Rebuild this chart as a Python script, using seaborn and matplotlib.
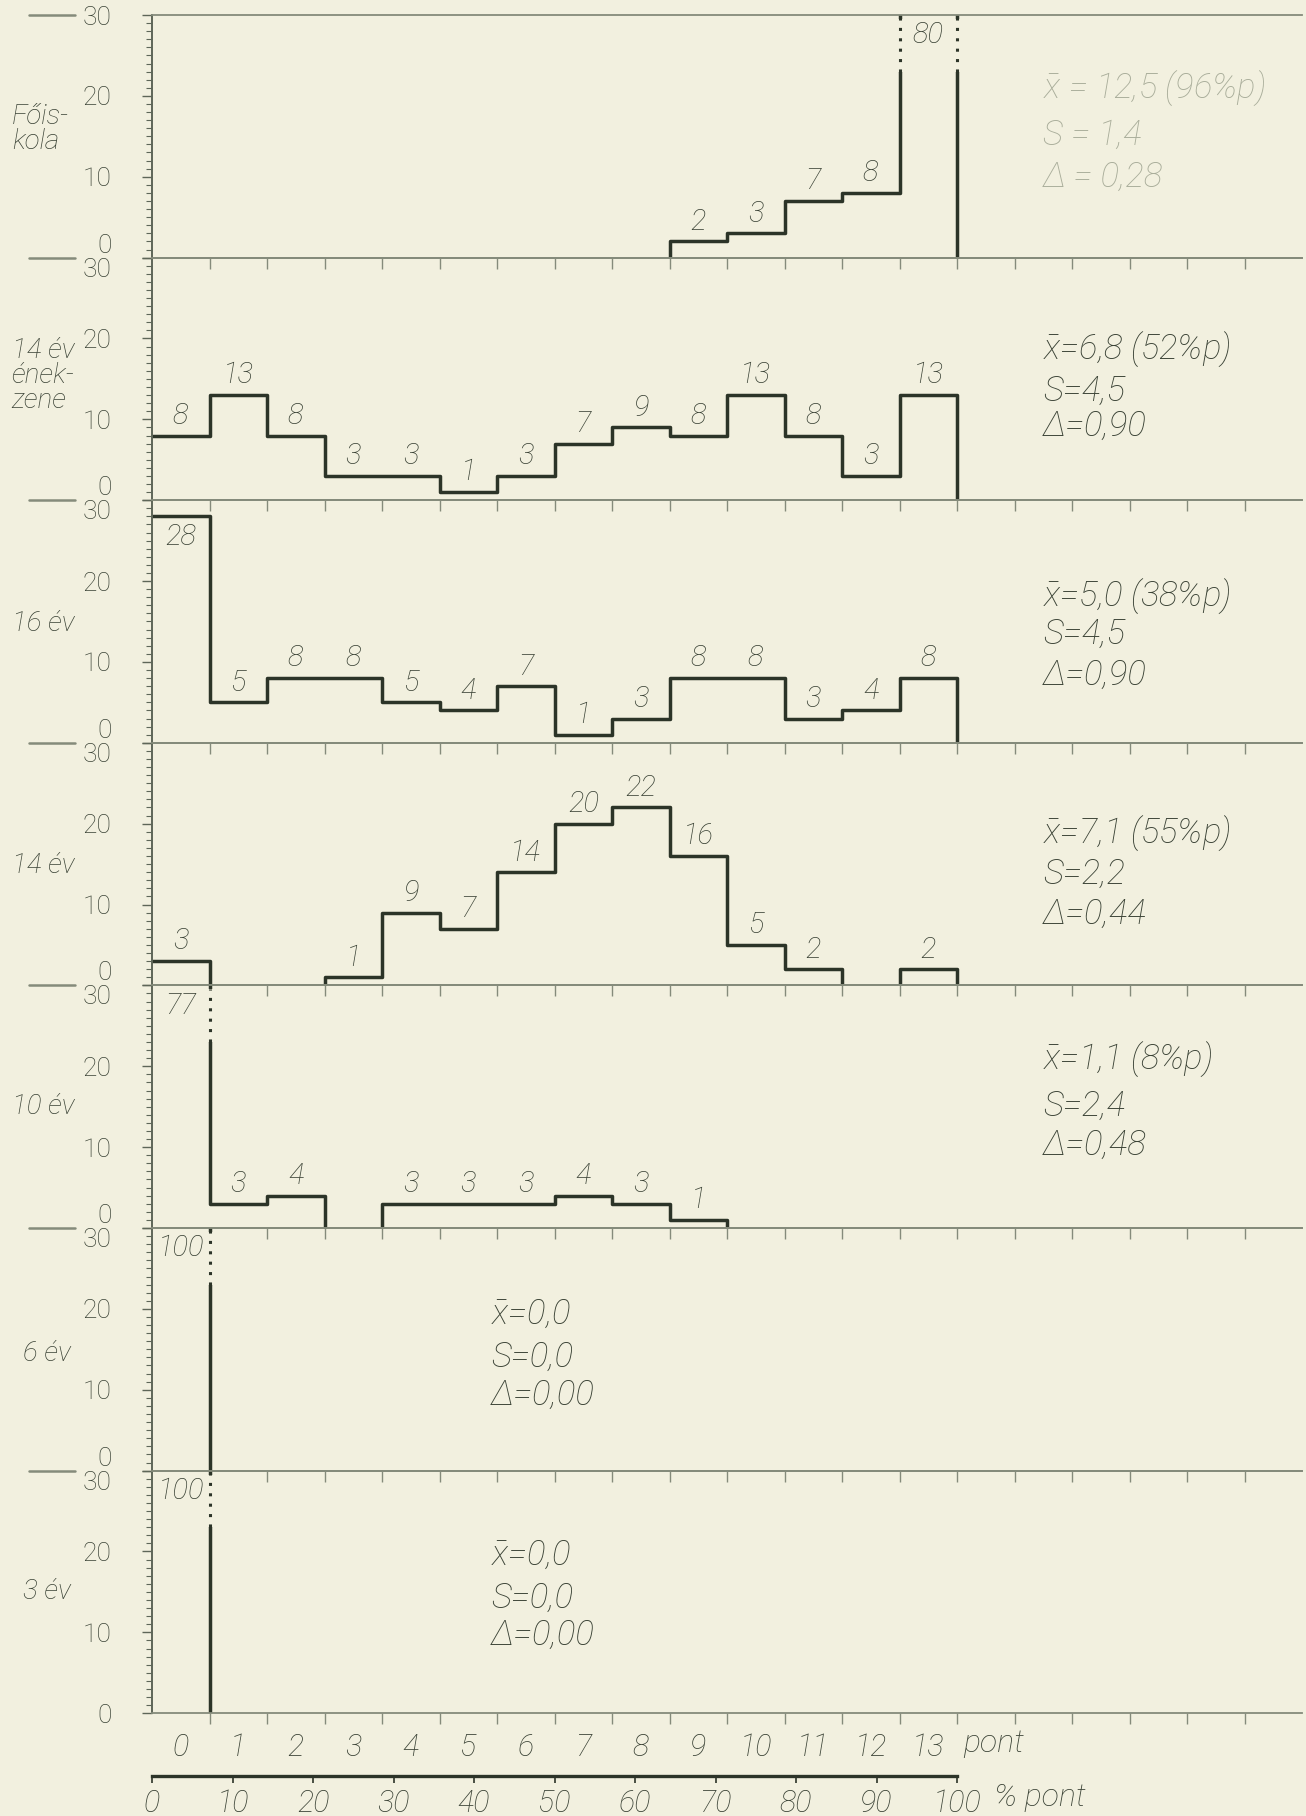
import numpy as np
import matplotlib
matplotlib.use("Agg")
import matplotlib.pyplot as plt
import seaborn as sns
from matplotlib.ticker import FixedLocator, MultipleLocator

# ---------------- data ----------------
point_labels = [str(p) for p in range(14)]
percent_ticks = [0, 10, 20, 30, 40, 50, 60, 70, 80, 90, 100]
group_names = ["Főis-\nkola", "14 év\nének-\nzene", "16 év", "14 év", "10 év", "6 év", "3 év"]

foiskola   = [0, 0, 0, 0, 0, 0, 0, 0, 0, 2, 3, 7, 8, 80]
enekzene14 = [8, 13, 8, 3, 3, 1, 3, 7, 9, 8, 13, 8, 3, 13]
ev16       = [28, 5, 8, 8, 5, 4, 7, 1, 3, 8, 8, 3, 4, 8]
ev14       = [3, 0, 0, 1, 9, 7, 14, 20, 22, 16, 5, 2, 0, 2]
ev10       = [77, 3, 4, 0, 3, 3, 3, 4, 3, 1, 0, 0, 0, 0]
ev6        = [100, 0, 0, 0, 0, 0, 0, 0, 0, 0, 0, 0, 0, 0]
ev3        = [100, 0, 0, 0, 0, 0, 0, 0, 0, 0, 0, 0, 0, 0]
series = [foiskola, enekzene14, ev16, ev14, ev10, ev6, ev3]

mean_text  = ["12,5 (96%p)", "6,8 (52%p)", "5,0 (38%p)", "7,1 (55%p)", "1,1 (8%p)", "0,0", "0,0"]
s_text     = ["1,4", "4,5", "4,5", "2,2", "2,4", "0,0", "0,0"]
delta_text = ["0,28", "0,90", "0,90", "0,44", "0,48", "0,00", "0,00"]

# ---------------- style ----------------
bg = "#f2f0df"
line_c = "#2c3428"
frame_c = "#858b7b"
axis_c = "#5e6658"
text_c = "#3a4235"
faded_c = "#a9ad9a"

sns.set_theme(style="white")
FONT = "Roboto"
plt.rcParams["font.family"] = [FONT, "DejaVu Sans"]
plt.rcParams["font.weight"] = "light"
plt.rcParams["mathtext.fontset"] = "custom"
plt.rcParams["mathtext.it"] = FONT + ":italic:light"
plt.rcParams["mathtext.rm"] = FONT + ":light"
plt.rcParams["mathtext.sf"] = FONT + ":light"

W, H = 1306, 1816
left_px, unit_px = 152, 57.5
top_px, panel_px = 15, 242.6
xmax = 20

fig = plt.figure(figsize=(W / 100, H / 100), dpi=100, facecolor=bg)

stats_x = [15.5, 15.5, 15.5, 15.5, 15.5, 5.9, 5.9]
stats_y = [(20.9, 15.1, 10.0), (18.6, 13.5, 9.2), (18.1, 13.5, 8.4),
           (18.8, 13.8, 8.8), (20.9, 15.1, 10.2), (19.3, 14.0, 9.3), (19.5, 14.2, 9.6)]
name_x = [-0.122, -0.122, -0.122, -0.122, -0.122, -0.112, -0.112]
name_y = [15.9, 15.4, 14.8, 14.8, 15.0, 14.5, 15.0]

axes = []
for i, vals in enumerate(series):
    vals = np.asarray(vals)
    bottom_px = top_px + (i + 1) * panel_px
    ax = fig.add_axes([left_px / W, 1 - bottom_px / H, xmax * unit_px / W, panel_px / H])
    ax.set_facecolor("none")
    axes.append(ax)

    # contiguous non-zero runs, drawn as step outlines
    k = 0
    eps = 0.002
    while k < 14:
        if vals[k] > 0:
            j = k
            while j + 1 < 14 and vals[j + 1] > 0:
                j += 1
            inner = list(np.arange(k, j + 2))
            bins = ([k - eps] if k > 0 else []) + inner + [j + 1 + eps]
            sns.histplot(x=np.arange(k, j + 1) + 0.5, weights=vals[k:j + 1], bins=bins,
                         element="step", fill=False, color=line_c, linewidth=2.5, ax=ax)
            k = j + 1
        else:
            k += 1

    # broken (off-scale) bars
    for k, v in enumerate(vals):
        if v > 30:
            xs = [e for e in (k, k + 1) if e > 0]
            ax.vlines(xs, 23, 29.5, colors=bg, linewidth=6, zorder=5)
            ax.vlines(xs, 23, 29.6, colors=line_c, linewidth=2.2,
                      linestyles=[(0, (1, 2.4))], zorder=6)

    # value labels
    for k, v in enumerate(vals):
        if v == 0:
            continue
        if v > 30:
            y, va = 27.5, "center"
        elif v >= 25:
            y, va = v - 0.8, "top"
        else:
            y, va = v + 0.7, "bottom"
        ax.text(k + 0.5, y, str(v), ha="center", va=va, fontsize=21,
                style="italic", color=text_c, zorder=7)

    # stats
    c = faded_c if i == 0 else text_c
    sep = " = " if i == 0 else "="
    lines = [r"$\bar{x}$" + sep + mean_text[i], "S" + sep + s_text[i], "Δ" + sep + delta_text[i]]
    for txt, yy in zip(lines, stats_y[i]):
        ax.text(stats_x[i], yy, txt, ha="left", va="center", fontsize=25,
                style="italic", color=c)

    # group name
    ax.text(name_x[i], name_y[i], group_names[i], transform=ax.get_yaxis_transform(),
            ha="left", va="center", fontsize=20, style="italic", color=text_c,
            linespacing=0.92)

    # left dash at the panel top
    ax.plot([-0.107, -0.067], [30, 30], transform=ax.get_yaxis_transform(),
            color=frame_c, lw=1.8, clip_on=False)

    ax.set_xlim(0, xmax)
    ax.set_ylim(0, 30)
    ax.set_xlabel("")
    ax.set_ylabel("")

    ax.spines["right"].set_visible(False)
    for side in ["top", "bottom"]:
        ax.spines[side].set_color(frame_c)
        ax.spines[side].set_linewidth(1.3)
    ax.spines["left"].set_color(axis_c)
    ax.spines["left"].set_linewidth(1.4)

    ax.yaxis.set_major_locator(FixedLocator([0, 10, 20, 30]))
    ax.yaxis.set_minor_locator(MultipleLocator(1))
    ax.set_yticklabels(["0", "10", "20", "30"])
    ax.tick_params(axis="y", which="major", left=True, direction="out", length=7,
                   width=1.0, color=axis_c, pad=22, labelsize=19, labelcolor=text_c)
    ax.tick_params(axis="y", which="minor", left=True, direction="out", length=4,
                   width=0.8, color=axis_c)
    ax.set_xticks(range(1, xmax))
    ax.tick_params(axis="x", which="major", bottom=True, top=False, direction="out",
                   length=8, width=1.0, color=frame_c, labelbottom=False)
    for t, val in zip(ax.yaxis.get_major_ticks(), [0, 10, 20, 30]):
        if val == 0 and i < 6:
            t.label1.set_verticalalignment("bottom")
        if val == 30 and i > 0:
            t.label1.set_verticalalignment("top")
    ax.grid(False)

# bottom point labels
ax = axes[-1]
ax.set_xticks(np.arange(14) + 0.5, minor=True)
ax.set_xticklabels(point_labels, minor=True)
ax.tick_params(axis="x", which="minor", bottom=True, length=0, pad=14,
               labelsize=22, labelcolor=text_c)
for lab in ax.get_xticklabels(minor=True):
    lab.set_style("italic")
fig.text((left_px + 14.1 * unit_px) / W, 1 - 1744 / H, "pont", ha="left", va="center",
         fontsize=23, style="italic", color=text_c)

# percent axis
pax = fig.add_axes([left_px / W, 1 - 1776 / H, xmax * unit_px / W, 0.0005])
pax.set_facecolor("none")
pax.set_xlim(0, xmax)
pax.set_ylim(0, 1)
for side in ["top", "left", "right"]:
    pax.spines[side].set_visible(False)
pax.spines["bottom"].set_color(line_c)
pax.spines["bottom"].set_linewidth(2.4)
pax.spines["bottom"].set_bounds(0, 14)
pax.set_yticks([])
pax.set_xticks([p * 14 / 100 for p in percent_ticks])
pax.set_xticklabels([str(p) for p in percent_ticks])
pax.tick_params(axis="x", bottom=True, direction="out", length=5, width=1.2,
                color=line_c, pad=4, labelsize=22, labelcolor=text_c)
for lab in pax.get_xticklabels():
    lab.set_style("italic")
fig.text((left_px + 14.65 * unit_px) / W, 1 - 1797 / H, "% pont", ha="left", va="center",
         fontsize=23, style="italic", color=text_c)

fig.savefig("out.png", dpi=100, facecolor=bg)
